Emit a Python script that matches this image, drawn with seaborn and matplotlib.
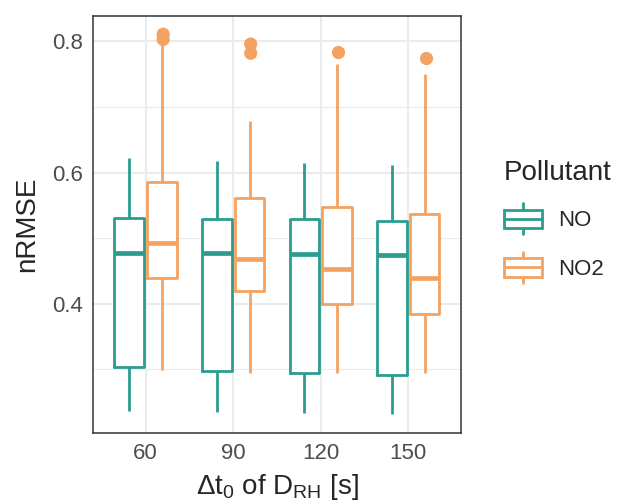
import pandas as pd
import matplotlib
matplotlib.use("Agg")
import matplotlib.pyplot as plt
import seaborn as sns
from matplotlib.ticker import FixedLocator
from matplotlib.legend_handler import HandlerBase
from matplotlib.patches import Rectangle
from matplotlib.lines import Line2D

# Box summaries
dt0 = ["60", "90", "120", "150"]
pollutants = ["NO", "NO2"]
colors = ["#2A9D8F", "#F4A261"]

no_low = [0.236, 0.235, 0.234, 0.232]
no_q1 = [0.303, 0.297, 0.294, 0.291]
no_med = [0.477, 0.478, 0.476, 0.475]
no_q3 = [0.531, 0.530, 0.529, 0.526]
no_high = [0.623, 0.618, 0.614, 0.611]

no2_low = [0.299, 0.295, 0.295, 0.295]
no2_q1 = [0.439, 0.420, 0.400, 0.385]
no2_med = [0.492, 0.469, 0.453, 0.439]
no2_q3 = [0.585, 0.562, 0.548, 0.537]
no2_high = [0.799, 0.678, 0.765, 0.750]

# Outliers (NO2 only)
out_dt0 = ["60", "60", "90", "90", "120", "150"]
out_val = [0.811, 0.803, 0.796, 0.782, 0.784, 0.774]

# Long table: five-number summary per box
rows = []
for pol, stats in [("NO", [no_low, no_q1, no_med, no_q3, no_high]),
                   ("NO2", [no2_low, no2_q1, no2_med, no2_q3, no2_high])]:
    for i, d in enumerate(dt0):
        for s in stats:
            rows.append({"dt0": d, "Pollutant": pol, "nRMSE": s[i]})
df = pd.DataFrame(rows)
out_df = pd.DataFrame({"dt0": out_dt0, "Pollutant": "NO2", "nRMSE": out_val})

sns.set_style("white")
plt.rcParams["font.family"] = ["Liberation Sans", "DejaVu Sans"]
plt.rcParams["mathtext.default"] = "regular"

fig, ax = plt.subplots(figsize=(6.21, 5.03), dpi=100)
fig.subplots_adjust(left=0.150, right=0.742, top=0.968, bottom=0.139)

common = dict(data=df, x="dt0", y="nRMSE", hue="Pollutant", order=dt0,
              hue_order=pollutants, width=0.75, gap=0.1, whis=(0, 100),
              showcaps=False, legend=False, ax=ax)
# white box fill first, then coloured outlines
sns.boxplot(**common, palette=["white", "white"], fill=True, linewidth=0)
sns.boxplot(**common, palette=colors, fill=False, linewidth=2.0,
            medianprops=dict(linewidth=3.4))
sns.stripplot(data=out_df, x="dt0", y="nRMSE", hue="Pollutant", order=dt0,
              hue_order=pollutants, palette=colors, dodge=True, jitter=False,
              size=9.5, linewidth=0, legend=False, ax=ax)

# theme_bw look
ax.set_xlim(-0.6, 3.6)
ax.set_ylim(0.2029, 0.8386)
ax.set_yticks([0.4, 0.6, 0.8])
ax.yaxis.set_minor_locator(FixedLocator([0.3, 0.5, 0.7]))
ax.set_axisbelow(True)
ax.grid(which="major", color="#EBEBEB", linewidth=1.5)
ax.grid(which="minor", axis="y", color="#EBEBEB", linewidth=0.8)
for sp in ax.spines.values():
    sp.set_color("#333333")
    sp.set_linewidth(1.1)
ax.tick_params(which="major", length=4, width=1.1, color="#333333",
               labelcolor="#4D4D4D", labelsize=16, pad=3)
ax.tick_params(which="minor", length=0)
ax.set_xlabel(r"$\Delta$t$_0$ of D$_{RH}$ [s]", fontsize=20, labelpad=6)
ax.set_ylabel("nRMSE", fontsize=20, labelpad=9)


class BoxHandler(HandlerBase):
    def create_artists(self, legend, orig, xd, yd, w, h, fontsize, trans):
        c = orig.get_edgecolor()
        x0, y0 = -xd, -yd
        bh = 0.6 * h
        rect = Rectangle((x0, y0 + 0.2 * h), w, bh, facecolor="white",
                         edgecolor=c, lw=2.0, transform=trans)
        med = Line2D([x0, x0 + w], [y0 + h / 2] * 2, color=c, lw=2.0, transform=trans)
        lo = Line2D([x0 + w / 2] * 2, [y0, y0 + 0.2 * h], color=c, lw=2.0, transform=trans)
        hi = Line2D([x0 + w / 2] * 2, [y0 + 0.8 * h, y0 + h], color=c, lw=2.0, transform=trans)
        return [rect, med, lo, hi]


handles = [Rectangle((0, 0), 1, 1, edgecolor=c, facecolor="white") for c in colors]
leg = fig.legend(handles, pollutants, handler_map={Rectangle: BoxHandler()},
                 title="Pollutant", loc="upper left",
                 bbox_to_anchor=(504 / 621, 1 - 160 / 503), frameon=False,
                 fontsize=16, title_fontsize=20, handlelength=1.73,
                 handleheight=1.78, labelspacing=0.78, handletextpad=0.72,
                 borderpad=0, borderaxespad=0, alignment="left")

fig.savefig("out.png", dpi=100)
